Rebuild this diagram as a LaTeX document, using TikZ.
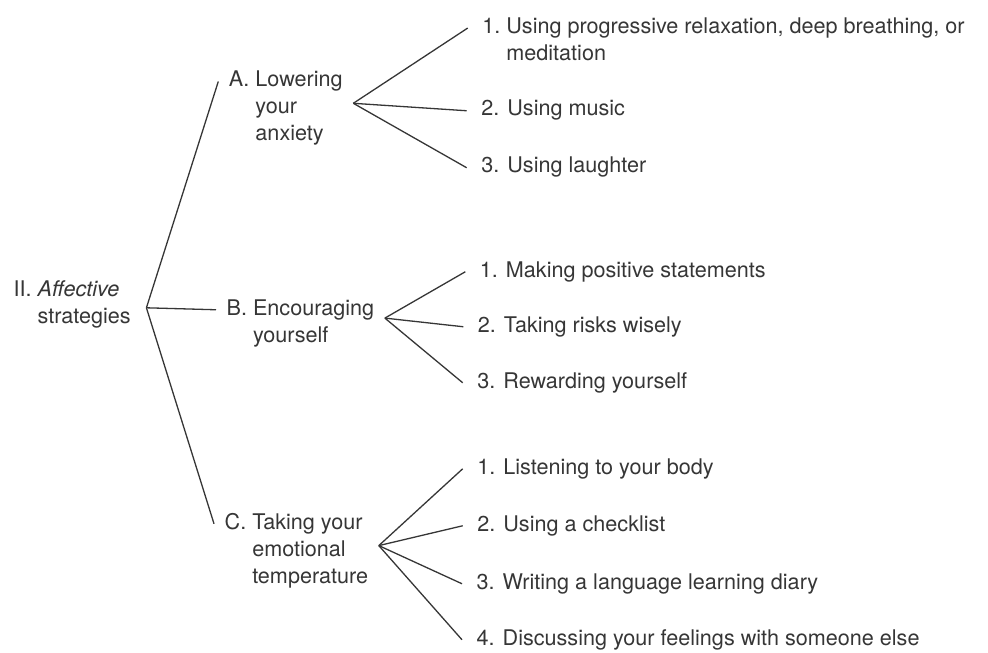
\documentclass[tikz,border=0pt]{standalone}
\usepackage{fontspec}
\setmainfont{TeX Gyre Heros}
\definecolor{ink}{HTML}{363636}
\newcommand{\hang}[2]{\begin{tabular}[t]{@{}l@{\ }l@{}}#1 & #2\end{tabular}}
\begin{document}
\begin{tikzpicture}[x=0.5pt,y=-0.5pt,color=ink,line width=0.65pt,
  font=\fontsize{10.8}{13.5}\selectfont,
  lbl/.style={anchor=base west,inner xsep=5pt,inner ysep=0pt},
  itm/.style={anchor=base west,inner xsep=7pt,inner ysep=0pt}]
  \useasboundingbox (0,0) rectangle (988,652);
  % Root and strategy groups
  \node[anchor=base west,inner xsep=7.5pt] (root) at (-2,296.7) {\hang{II.}{\textit{Affective}\\ & strategies}};
  \node[lbl] (A) at (218.3,86.7) {\hang{A.}{Lowering\\ & your\\ & anxiety}};
  \node[lbl] (B) at (216,315) {\hang{B.}{Encouraging\\ & yourself}};
  \node[lbl] (C) at (214,529) {\hang{C.}{Taking your\\ & emotional\\ & temperature}};
  % Items under A
  \node[itm] (a1) at (467.7,33.3) {\hang{1.}{Using progressive relaxation, deep breathing, or\\ & meditation}};
  \node[itm] (a2) at (466.7,116) {2. Using music};
  \node[itm] (a3) at (466.7,173) {3. Using laughter};
  % Items under B
  \node[itm] (b1) at (465.3,277) {1. Making positive statements};
  \node[itm] (b2) at (463.3,332) {2. Taking risks wisely};
  \node[itm] (b3) at (462.7,388) {3. Rewarding yourself};
  % Items under C
  \node[itm] (c1) at (462.7,474) {1. Listening to your body};
  \node[itm] (c2) at (462.7,531) {2. Using a checklist};
  \node[itm] (c3) at (462,589) {3. Writing a language learning diary};
  \node[itm] (c4) at (462,645) {4. Discussing your feelings with someone else};
  % Branches
  \foreach \g in {A,B,C} \draw ([yshift=-1.5pt]root.east) -- (\g.mid west);
  \foreach \i in {1,2,3} \draw ([yshift=2.5pt]A.east) -- (a\i.mid west);
  \foreach \i in {1,2,3} \draw ([yshift=2.5pt]B.east) -- (b\i.mid west);
  \foreach \i in {1,2,3,4} \draw ([yshift=2.5pt]C.east) -- (c\i.mid west);
\end{tikzpicture}
\end{document}
